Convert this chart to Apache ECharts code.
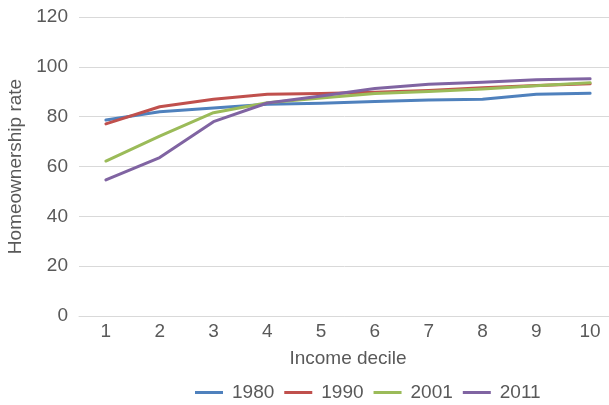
<!DOCTYPE html>
<html>
<head>
<meta charset="utf-8">
<script src="https://cdn.jsdelivr.net/npm/echarts@6/dist/echarts.min.js"></script>
<style>
  html, body { margin: 0; padding: 0; background: #fff; }
  #chart { width: 609px; height: 405px; }
</style>
</head>
<body>
<div id="chart"></div>
<script>
// Homeownership rate by income decile, four census years
const deciles = ['1', '2', '3', '4', '5', '6', '7', '8', '9', '10'];
const yTicks = [0, 20, 40, 60, 80, 100, 120];
const rate1980 = [78.7, 82.0, 83.5, 85.0, 85.4, 86.1, 86.7, 87.0, 89.0, 89.4];
const rate1990 = [77.1, 84.0, 87.0, 89.0, 89.3, 89.8, 90.5, 91.6, 92.5, 93.2];
const rate2001 = [62.2, 72.2, 81.6, 85.6, 87.5, 89.3, 90.1, 91.1, 92.4, 93.6];
const rate2011 = [54.6, 63.6, 78.0, 85.5, 88.3, 91.3, 93.0, 93.8, 94.8, 95.2];

const seriesNames = ['1980', '1990', '2001', '2011'];
const seriesColors = ['#4F81BD', '#C0504D', '#9BBB59', '#8064A2'];
const seriesData = [rate1980, rate1990, rate2001, rate2011];

const font = 'Liberation Sans';
const textColor = '#595959';
const fs = 19;

const chart = echarts.init(document.getElementById('chart'));
chart.setOption({
  animation: false,
  textStyle: { fontFamily: font },
  grid: {
    left: 79, top: 17, width: 538, height: 299,
    containLabel: false,
    outerBoundsMode: 'none'
  },
  legend: {
    left: 195,
    top: 383,
    padding: 0,
    icon: 'rect',
    itemWidth: 28,
    itemHeight: 3,
    itemGap: 10,
    textStyle: { color: textColor, fontSize: fs, fontFamily: font, padding: [0, 0, 0, 4] },
    data: seriesNames
  },
  xAxis: {
    type: 'category',
    data: deciles,
    boundaryGap: true,
    name: 'Income decile',
    nameLocation: 'middle',
    nameGap: 33,
    nameTextStyle: { color: textColor, fontSize: fs, fontFamily: font },
    axisLine: { show: true, lineStyle: { color: '#d9d9d9', width: 1 } },
    axisTick: { show: false },
    axisLabel: { color: textColor, fontSize: fs, fontFamily: font, margin: 6 }
  },
  yAxis: {
    type: 'value',
    min: yTicks[0],
    max: yTicks[yTicks.length - 1],
    interval: yTicks[1] - yTicks[0],
    name: 'Homeownership rate',
    nameLocation: 'middle',
    nameGap: 50,
    nameRotate: 90,
    nameTextStyle: { color: textColor, fontSize: fs, fontFamily: font },
    axisLine: { show: false },
    axisTick: { show: false },
    splitLine: { lineStyle: { color: '#d9d9d9', width: 1 } },
    axisLabel: { color: textColor, fontSize: fs, fontFamily: font, margin: 11 }
  },
  series: seriesNames.map((name, i) => ({
    name: name,
    type: 'line',
    data: seriesData[i],
    showSymbol: false,
    symbol: 'none',
    color: seriesColors[i],
    lineStyle: { color: seriesColors[i], width: 3, cap: 'round', join: 'round' }
  }))
});
</script>
</body>
</html>
